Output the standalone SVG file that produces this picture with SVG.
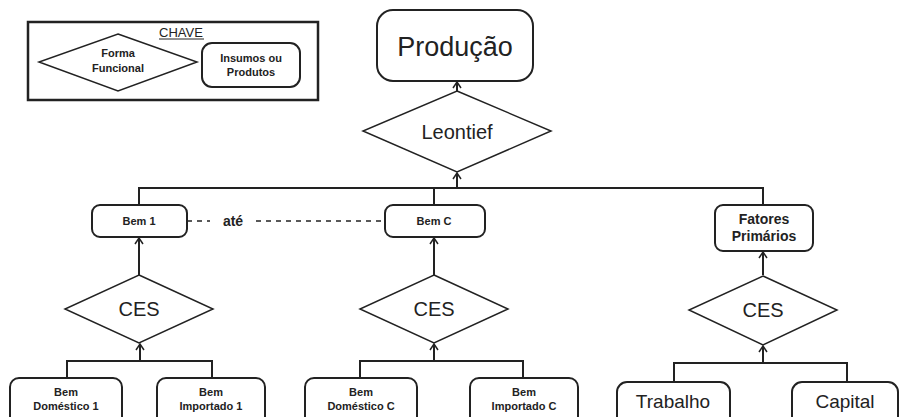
<svg xmlns="http://www.w3.org/2000/svg" width="900" height="417" viewBox="0 0 900 417">
<defs>
<marker id="arr" markerWidth="8" markerHeight="10" refX="7" refY="5" orient="auto" markerUnits="userSpaceOnUse">
<path d="M1,1 L7,5 L1,9" fill="none" stroke="#222" stroke-width="1.5"/>
</marker>
<style>
.box{fill:#fff;stroke:#222;stroke-width:2}
.dia{fill:#fff;stroke:#222;stroke-width:1.5}
.ln{fill:none;stroke:#222;stroke-width:2}
.t{font-family:"Liberation Sans",Arial,sans-serif;fill:#222;text-anchor:middle}
.s{font-size:11px;font-weight:bold}
.m{font-size:20px}
</style>
</defs>
<rect width="900" height="417" fill="#fff"/>

<g id="key">
<rect x="28" y="22" width="290" height="78" fill="#fff" stroke="#222" stroke-width="2.5"/>
<text class="t" x="181" y="37" font-size="13">CHAVE</text>
<line x1="159" y1="39" x2="204" y2="39" stroke="#222" stroke-width="1"/>
<polygon class="dia" points="118,34 197,62 118,91 39,62"/>
<text class="t s" x="118" y="57">Forma</text>
<text class="t s" x="118" y="72">Funcional</text>
<rect class="box" x="202" y="43" width="98" height="44" rx="10"/>
<text class="t s" x="251" y="62" font-size="10">Insumos ou</text>
<text class="t s" x="251" y="76" font-size="10">Produtos</text>
</g>

<g id="connectors">
<line class="ln" x1="457" y1="91" x2="457" y2="82" marker-end="url(#arr)"/>
<line class="ln" x1="457" y1="188" x2="457" y2="173" marker-end="url(#arr)"/>
<polyline class="ln" points="139,205 139,188 763,188 763,205"/>
<line class="ln" x1="434" y1="188" x2="434" y2="205"/>
<line x1="187" y1="221" x2="210" y2="221" stroke="#222" stroke-width="1.5" stroke-dasharray="5,5"/>
<line x1="256" y1="221" x2="385" y2="221" stroke="#222" stroke-width="1.5" stroke-dasharray="5,5"/>
<line class="ln" x1="139" y1="275" x2="139" y2="238" marker-end="url(#arr)"/>
<line class="ln" x1="434" y1="275" x2="434" y2="238" marker-end="url(#arr)"/>
<line class="ln" x1="763" y1="275" x2="763" y2="252" marker-end="url(#arr)"/>
<line class="ln" x1="140" y1="361" x2="140" y2="344" marker-end="url(#arr)"/>
<line class="ln" x1="434" y1="361" x2="434" y2="344" marker-end="url(#arr)"/>
<line class="ln" x1="763" y1="363" x2="763" y2="346" marker-end="url(#arr)"/>
<polyline class="ln" points="67,378 67,361 212,361 212,378"/>
<polyline class="ln" points="360,378 360,361 523,361 523,378"/>
<polyline class="ln" points="674,382 674,363 847,363 847,382"/>
</g>

<g id="producao">
<rect class="box" x="377" y="10" width="156" height="71" rx="16"/>
<text class="t" x="455" y="56" font-size="27">Produção</text>
</g>
<g id="leontief">
<polygon class="dia" points="457,91 551,131 457,172 363,131"/>
<text class="t m" x="457" y="139">Leontief</text>
</g>
<g id="bem1">
<rect class="box" x="92" y="205" width="95" height="32" rx="8"/>
<text class="t s" x="139" y="225">Bem 1</text>
</g>
<text class="t" x="233" y="226" font-size="14" font-weight="bold">até</text>
<g id="bemC">
<rect class="box" x="385" y="205" width="100" height="32" rx="8"/>
<text class="t s" x="434" y="225">Bem C</text>
</g>
<g id="fatores">
<rect class="box" x="715" y="205" width="98" height="46" rx="8"/>
<text class="t" x="764" y="224" font-size="14" font-weight="bold">Fatores</text>
<text class="t" x="764" y="241" font-size="14" font-weight="bold">Primários</text>
</g>
<g id="ces1">
<polygon class="dia" points="139,275 213,309 139,343 65,309"/>
<text class="t m" x="139" y="316">CES</text>
</g>
<g id="cesC">
<polygon class="dia" points="434,275 508,309 434,343 360,309"/>
<text class="t m" x="434" y="316">CES</text>
</g>
<g id="cesF">
<polygon class="dia" points="763,276 837,310 763,345 689,310"/>
<text class="t m" x="763" y="317">CES</text>
</g>
<g id="bemDom1">
<rect class="box" x="10" y="378" width="112" height="50" rx="9"/>
<text class="t s" x="66" y="396">Bem</text>
<text class="t s" x="66" y="410">Doméstico 1</text>
</g>
<g id="bemImp1">
<rect class="box" x="157" y="378" width="108" height="50" rx="9"/>
<text class="t s" x="211" y="396">Bem</text>
<text class="t s" x="211" y="410">Importado 1</text>
</g>
<g id="bemDomC">
<rect class="box" x="305" y="378" width="112" height="50" rx="9"/>
<text class="t s" x="361" y="396">Bem</text>
<text class="t s" x="361" y="410">Doméstico C</text>
</g>
<g id="bemImpC">
<rect class="box" x="470" y="378" width="108" height="50" rx="9"/>
<text class="t s" x="524" y="396">Bem</text>
<text class="t s" x="524" y="410">Importado C</text>
</g>
<g id="trabalho">
<rect class="box" x="617" y="382" width="113" height="46" rx="10"/>
<text class="t" x="673" y="408" font-size="19">Trabalho</text>
</g>
<g id="capital">
<rect class="box" x="792" y="382" width="106" height="46" rx="10"/>
<text class="t" x="845" y="408" font-size="19">Capital</text>
</g>
</svg>
